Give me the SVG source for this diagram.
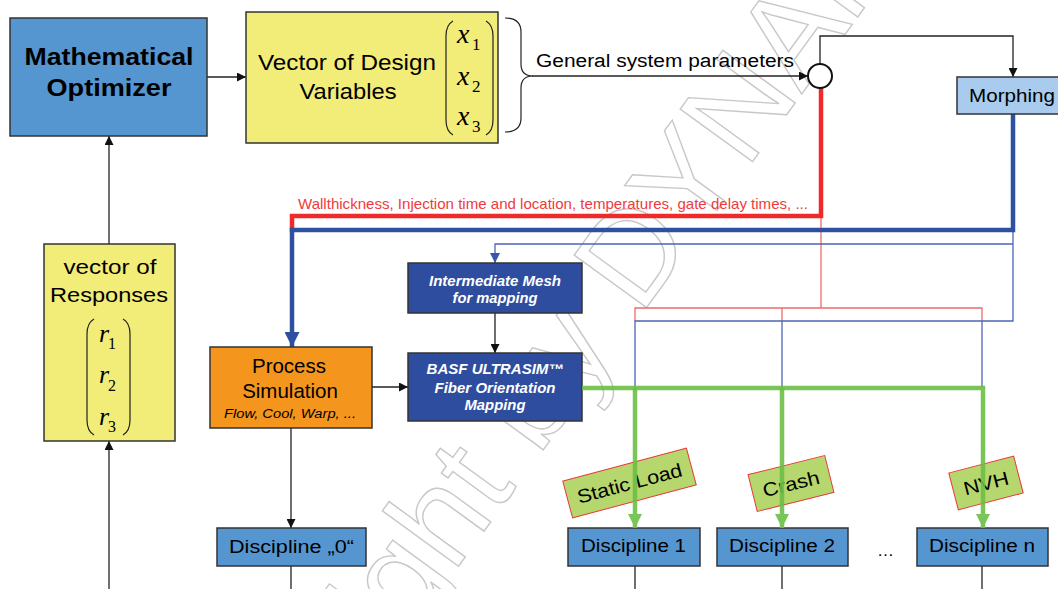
<svg xmlns="http://www.w3.org/2000/svg" width="1058" height="589" viewBox="0 0 1058 589">
<defs>
<style>
text{font-family:"Liberation Sans",Arial,sans-serif;fill:#000}
.box{stroke:#333;stroke-width:1.5}
.opt{fill:#5596d0}
.yel{fill:#f2ec78}
.disc{fill:#5596d0}
.dark{fill:#2e4d9f}
.lbl{fill:#b6d76d;stroke:#e8393a;stroke-width:1}
.wt{fill:#fff;font-weight:bold;font-style:italic;font-size:14px}
.math{font-family:"Liberation Serif","Times New Roman",serif;font-style:italic}
.sub{font-family:"Liberation Serif","Times New Roman",serif}
.blk{stroke:#222;stroke-width:1.3;fill:none}
.par{stroke:#222;stroke-width:1.2;fill:none}
.redT{stroke:#ee2a2a;stroke-width:4.5;fill:none}
.redt{stroke:#f06a6a;stroke-width:1.3;fill:none}
.bluT{stroke:#2f4fa0;stroke-width:4.5;fill:none}
.blut{stroke:#4d66b5;stroke-width:1.3;fill:none}
.grn{stroke:#6cbf45;stroke-width:4.5;fill:none;opacity:0.9}
</style>
<marker id="ab" viewBox="0 0 10 10" refX="10" refY="5" markerWidth="10" markerHeight="9" markerUnits="userSpaceOnUse" orient="auto"><path d="M0,0 L10,5 L0,10 z" fill="#111"/></marker>
<marker id="abt" viewBox="0 0 10 10" refX="10" refY="5" markerWidth="11" markerHeight="10" markerUnits="userSpaceOnUse" orient="auto"><path d="M0,0 L10,5 L0,10 z" fill="#3b55a8"/></marker>
<marker id="abT" viewBox="0 0 10 10" refX="10" refY="5" markerWidth="15" markerHeight="15" markerUnits="userSpaceOnUse" orient="auto"><path d="M0,0 L10,5 L0,10 z" fill="#2f4fa0"/></marker>
<marker id="ag" viewBox="0 0 10 10" refX="10" refY="5" markerWidth="14" markerHeight="15" markerUnits="userSpaceOnUse" orient="auto"><path d="M0,0 L10,5 L0,10 z" fill="#6cbf45"/></marker>
</defs>
<rect width="1058" height="589" fill="#fff"/>

<g id="watermark">
<text x="190" y="936" transform="rotate(-54 190 936)" font-size="130" style="fill:none;stroke:#c8c8c8;stroke-width:1.4">Copyright by DYNAmore</text>
</g>

<g id="connectors">
<line class="blk" x1="207" y1="77" x2="246" y2="77" marker-end="url(#ab)"/>
<line class="blk" x1="532" y1="76" x2="808" y2="76" marker-end="url(#ab)"/>
<polyline class="blk" points="820,64 820,36 1013,36 1013,77" marker-end="url(#ab)"/>
<line class="blk" x1="109" y1="244" x2="109" y2="136" marker-end="url(#ab)"/>
<line class="blk" x1="109" y1="589" x2="109" y2="441" marker-end="url(#ab)"/>
<line class="blk" x1="495" y1="313" x2="495" y2="353" marker-end="url(#ab)"/>
<line class="blk" x1="372" y1="387" x2="408" y2="387" marker-end="url(#ab)"/>
<line class="blk" x1="291" y1="428" x2="291" y2="528" marker-end="url(#ab)"/>
<line class="blk" x1="291" y1="566" x2="291" y2="589"/>
<line class="blk" x1="635" y1="566" x2="635" y2="589"/>
<line class="blk" x1="782" y1="566" x2="782" y2="589"/>
<line class="blk" x1="982" y1="566" x2="982" y2="589"/>

<polyline class="redt" points="821,216 821,308"/>
<polyline class="redt" points="635,321 635,308 982,308 982,321"/>
<line class="redt" x1="782" y1="308" x2="782" y2="321"/>
<polyline class="blut" points="1013,230 1013,321 635,321 635,388"/>
<line class="blut" x1="782" y1="321" x2="782" y2="388"/>
<line class="blut" x1="982" y1="321" x2="982" y2="388"/>
<polyline class="blut" points="1013,244 495,244 495,263" marker-end="url(#abt)"/>

<polyline class="redT" points="821,88 821,216 292,216 292,232"/>
<polyline class="bluT" points="1013,114 1013,230 292,230 292,347" marker-end="url(#abT)"/>
</g>

<g id="optimizer">
<rect class="box opt" x="10" y="18" width="197" height="118"/>
<text x="109" y="65" font-size="24" font-weight="bold" text-anchor="middle" textLength="169" lengthAdjust="spacingAndGlyphs">Mathematical</text>
<text x="109" y="96" font-size="24" font-weight="bold" text-anchor="middle" textLength="125" lengthAdjust="spacingAndGlyphs">Optimizer</text>
</g>

<g id="design-vector">
<rect class="box yel" x="246" y="12" width="252" height="131"/>
<text x="347" y="70" font-size="22" text-anchor="middle" textLength="178" lengthAdjust="spacingAndGlyphs">Vector of Design</text>
<text x="348" y="99" font-size="22" text-anchor="middle" textLength="97" lengthAdjust="spacingAndGlyphs">Variables</text>
<path class="par" d="M453,21 Q446,25 446,36 L446,120 Q446,131 453,135"/>
<path class="par" d="M486,21 Q493,25 493,36 L493,120 Q493,131 486,135"/>
<text class="math" x="457" y="43" font-size="28">x</text><text class="sub" x="472" y="50" font-size="17">1</text>
<text class="math" x="457" y="85" font-size="28">x</text><text class="sub" x="472" y="92" font-size="17">2</text>
<text class="math" x="457" y="125" font-size="28">x</text><text class="sub" x="472" y="132" font-size="17">3</text>
</g>

<g id="brace">
<path class="par" d="M505,18 Q521,18 521,32 L521,64 Q521,76 533,76 Q521,76 521,88 L521,118 Q521,132 505,132"/>
<text x="536" y="67" font-size="18" textLength="258" lengthAdjust="spacingAndGlyphs">General system parameters</text>
</g>

<g id="junction">
<circle cx="820" cy="76" r="12" fill="#fff" stroke="#111" stroke-width="2"/>
</g>

<g id="morphing">
<rect class="box" x="957" y="77" width="110" height="37" fill="#a8cbee"/>
<text x="969" y="102" font-size="18" textLength="86" lengthAdjust="spacingAndGlyphs">Morphing</text>
</g>

<g id="red-label">
<text x="298" y="209" font-size="14.5" style="fill:#ef3b3b" textLength="510" lengthAdjust="spacingAndGlyphs">Wallthickness, Injection time and location, temperatures, gate delay times, ...</text>
</g>

<g id="responses">
<rect class="box yel" x="44" y="244" width="131" height="197"/>
<text x="110" y="274" font-size="21" text-anchor="middle" textLength="93" lengthAdjust="spacingAndGlyphs">vector of</text>
<text x="109" y="302" font-size="21" text-anchor="middle" textLength="118" lengthAdjust="spacingAndGlyphs">Responses</text>
<path class="par" d="M94,319 Q87,323 87,334 L87,420 Q87,431 94,435"/>
<path class="par" d="M123,319 Q130,323 130,334 L130,420 Q130,431 123,435"/>
<text class="math" x="99" y="342" font-size="26">r</text><text class="sub" x="108" y="349" font-size="16">1</text>
<text class="math" x="99" y="383" font-size="26">r</text><text class="sub" x="108" y="391" font-size="16">2</text>
<text class="math" x="99" y="425" font-size="26">r</text><text class="sub" x="108" y="432" font-size="16">3</text>
</g>

<g id="process">
<rect class="box" x="210" y="347" width="162" height="81" fill="#f4951d"/>
<text x="289" y="373" font-size="20.5" text-anchor="middle">Process</text>
<text x="290" y="398" font-size="20.5" text-anchor="middle">Simulation</text>
<text x="290" y="418" font-size="12" font-style="italic" text-anchor="middle" textLength="132" lengthAdjust="spacingAndGlyphs">Flow, Cool, Warp, ...</text>
</g>

<g id="mesh">
<rect class="box dark" x="408" y="263" width="174" height="50"/>
<text class="wt" x="495" y="286" text-anchor="middle" textLength="132" lengthAdjust="spacingAndGlyphs">Intermediate Mesh</text>
<text class="wt" x="495" y="303" text-anchor="middle" textLength="85" lengthAdjust="spacingAndGlyphs">for mapping</text>
</g>

<g id="basf">
<rect class="box dark" x="408" y="353" width="174" height="68"/>
<text class="wt" x="495" y="374" text-anchor="middle" textLength="137" lengthAdjust="spacingAndGlyphs">BASF ULTRASIM™</text>
<text class="wt" x="495" y="393" text-anchor="middle" textLength="121" lengthAdjust="spacingAndGlyphs">Fiber Orientation</text>
<text class="wt" x="495" y="410" text-anchor="middle" textLength="61" lengthAdjust="spacingAndGlyphs">Mapping</text>
</g>

<g id="discipline-0">
<rect class="box disc" x="217" y="528" width="149" height="38"/>
<text x="229" y="553" font-size="18" textLength="125" lengthAdjust="spacingAndGlyphs">Discipline „0“</text>
</g>
<g id="discipline-1">
<rect class="box disc" x="568" y="528" width="132" height="38"/>
<text x="581" y="552" font-size="18" textLength="105" lengthAdjust="spacingAndGlyphs">Discipline 1</text>
</g>
<g id="discipline-2">
<rect class="box disc" x="717" y="528" width="131" height="38"/>
<text x="729" y="552" font-size="18" textLength="106" lengthAdjust="spacingAndGlyphs">Discipline 2</text>
</g>
<g id="dots"><text x="877" y="556" font-size="17">…</text></g>
<g id="discipline-n">
<rect class="box disc" x="917" y="528" width="131" height="38"/>
<text x="929" y="552" font-size="18" textLength="106" lengthAdjust="spacingAndGlyphs">Discipline n</text>
</g>

<g id="label-static">
<g transform="translate(629.5 483) rotate(-15)">
<rect class="lbl" x="-64" y="-19" width="128" height="38"/>
<text x="0" y="7" font-size="19" text-anchor="middle" textLength="108" lengthAdjust="spacingAndGlyphs">Static Load</text>
</g>
</g>
<g id="label-crash">
<g transform="translate(791 483.5) rotate(-14)">
<rect class="lbl" x="-39.5" y="-19" width="79" height="38"/>
<text x="0" y="7" font-size="19" text-anchor="middle" textLength="58" lengthAdjust="spacingAndGlyphs">Crash</text>
</g>
</g>
<g id="label-nvh">
<g transform="translate(986 483) rotate(-14.5)">
<rect class="lbl" x="-33.5" y="-19" width="67" height="38"/>
<text x="0" y="7" font-size="19" text-anchor="middle" textLength="46" lengthAdjust="spacingAndGlyphs">NVH</text>
</g>
</g>

<g id="green-connectors">
<polyline class="grn" points="582,388 983,388 983,528" marker-end="url(#ag)"/>
<line class="grn" x1="635" y1="388" x2="635" y2="528" marker-end="url(#ag)"/>
<line class="grn" x1="782" y1="388" x2="782" y2="528" marker-end="url(#ag)"/>
</g>
</svg>
